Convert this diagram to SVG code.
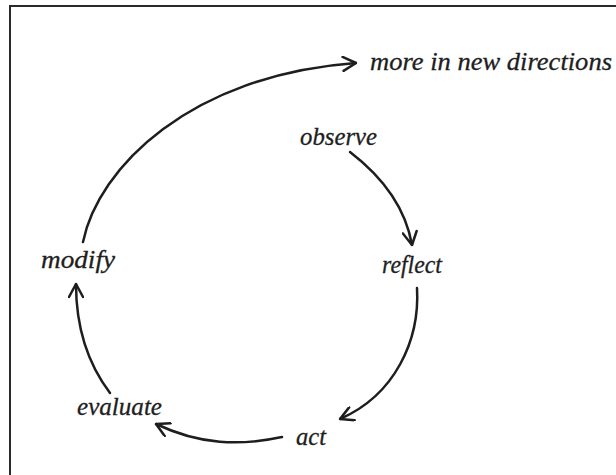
<svg xmlns="http://www.w3.org/2000/svg" width="616" height="475" viewBox="0 0 616 475">
<style>
.lbl{font-family:"Liberation Serif","DejaVu Serif",serif;font-style:italic;font-size:26px;fill:#1e1e1e;stroke:#1e1e1e;stroke-width:0.3}
.con{fill:none;stroke:#1e1e1e;stroke-width:2.5;stroke-linecap:round}
</style>
<defs>
<marker id="ah" viewBox="0 0 16 16" refX="15" refY="8" markerWidth="16" markerHeight="16" markerUnits="userSpaceOnUse" orient="auto">
<path d="M2,1 L15,8 L2,15" fill="none" stroke="#1e1e1e" stroke-width="2.5" stroke-linecap="round" stroke-linejoin="round"/>
</marker>
</defs>
<rect x="0" y="0" width="616" height="475" fill="#fff"/>
<rect x="10" y="6" width="620" height="480" fill="none" stroke="#2a2a2a" stroke-width="2"/>
<g id="connectors">
<path class="con" d="M83,242 C98,168 190,75 356,63" marker-end="url(#ah)"/>
<path class="con" d="M350,152 C380,175 405,205 412,245" marker-end="url(#ah)"/>
<path class="con" d="M417,288 C420,340 395,395 340,419" marker-end="url(#ah)"/>
<path class="con" d="M282,437 C240,446 200,445 156,424" marker-end="url(#ah)"/>
<path class="con" d="M110,393 C85,360 76,320 76,284" marker-end="url(#ah)"/>
</g>
<g id="more"><text class="lbl" x="370" y="70" textLength="242" lengthAdjust="spacingAndGlyphs">more in new directions</text></g>
<g id="observe"><text class="lbl" x="300" y="145" textLength="77" lengthAdjust="spacingAndGlyphs">observe</text></g>
<g id="reflect"><text class="lbl" x="382" y="273" textLength="60" lengthAdjust="spacingAndGlyphs">reflect</text></g>
<g id="act"><text class="lbl" x="296" y="445" textLength="30" lengthAdjust="spacingAndGlyphs">act</text></g>
<g id="evaluate"><text class="lbl" x="77" y="415" textLength="85" lengthAdjust="spacingAndGlyphs">evaluate</text></g>
<g id="modify"><text class="lbl" x="41" y="268" textLength="74" lengthAdjust="spacingAndGlyphs">modify</text></g>
</svg>
